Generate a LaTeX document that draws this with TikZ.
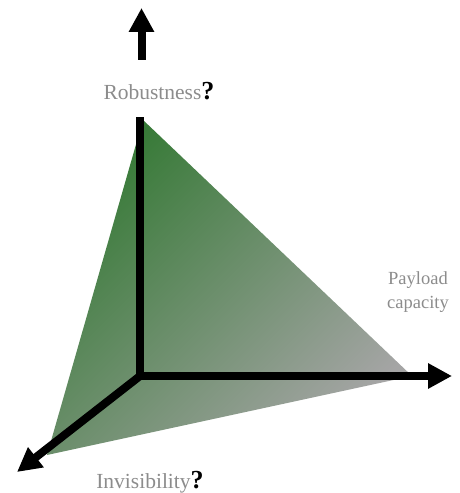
\documentclass[tikz,border=0pt]{standalone}
\usepackage{fontspec}
\setmainfont{Liberation Serif}
\usetikzlibrary{arrows.meta}
\definecolor{fillgreen}{RGB}{55,122,55}
\definecolor{fillgray}{RGB}{165,165,165}
\definecolor{labelgray}{RGB}{140,140,140}
\tikzset{
  axisline/.style={line width=8pt, black},
  axisarrow/.style={axisline, -{Triangle[width=24pt,length=24pt]}},
  lbl/.style={text=labelgray, inner sep=0pt},
}
\newcommand{\qmark}{{\fontsize{26}{30}\selectfont\bfseries\color{black}?}}
\begin{document}
\begin{tikzpicture}[x=1pt,y=1pt]
\useasboundingbox (0,0) rectangle (459,493);
% vertices
\coordinate (O) at (140,117);
\coordinate (T) at (143,373);
\coordinate (R) at (412,117);
\coordinate (BL) at (47,38);
\coordinate (Obar) at (140,113);
\coordinate (Ohl) at (136,117);
\coordinate (Xtip) at (452,117);
\coordinate (Dtip) at (17,21);
\coordinate (Utail) at (141.5,433);
\coordinate (Utip) at (141.5,485);
\coordinate (Vtop) at (140,376);
% shaded triangle
\shade[top color=fillgreen, bottom color=fillgray, shading angle=45] (T) -- (R) -- (BL) -- cycle;
% axes
\draw[axisline] (Obar) -- (Vtop);
\draw[axisarrow] (Ohl) -- (Xtip);
\draw[axisarrow] (O) -- (Dtip);
\draw[axisarrow] (Utail) -- (Utip);
% labels
\node[lbl, anchor=base] (rob) at (159,393) {\fontsize{21.5}{25}\selectfont Robustness\qmark};
\node[lbl, anchor=base] (inv) at (150,5) {\fontsize{21.5}{25}\selectfont Invisibility\qmark};
\node[lbl, align=center, font=\fontsize{18.5}{24.5}\selectfont] (pay) at (418,201) {Payload\\capacity};
\end{tikzpicture}
\end{document}
